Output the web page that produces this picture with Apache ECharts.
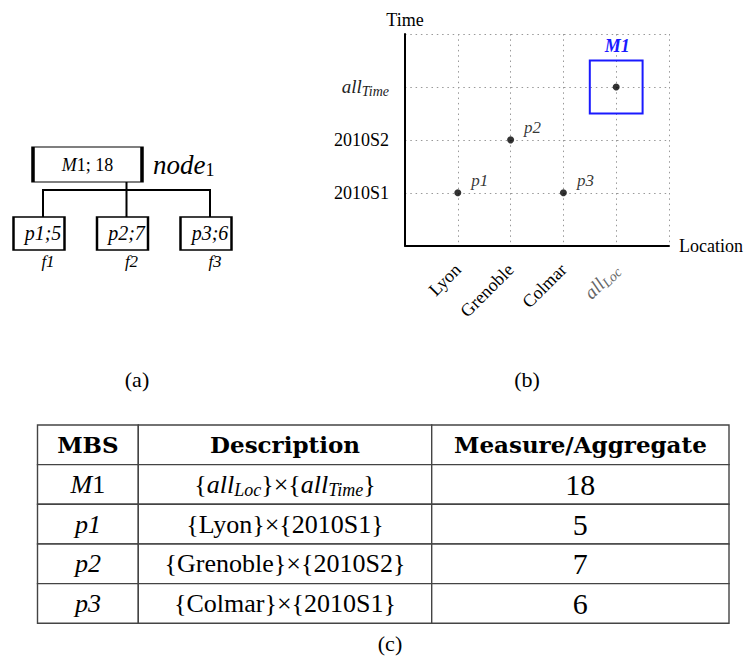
<!DOCTYPE html>
<html><head><meta charset="utf-8">
<script src="https://cdn.jsdelivr.net/npm/echarts@6/dist/echarts.min.js"></script>
<style>html,body{margin:0;padding:0;background:#fff}#c{width:748px;height:664px}</style>
</head><body><div id="c"></div>
<script>
// ---------------- data ----------------
const locations = ['Lyon', 'Grenoble', 'Colmar', 'all_Loc'];
const times = ['2010S1', '2010S2', 'all_Time'];
const mbsNames = ['M1', 'p1', 'p2', 'p3'];
const mbsLocation = ['all_Loc', 'Lyon', 'Grenoble', 'Colmar'];
const mbsTime = ['all_Time', '2010S1', '2010S2', '2010S1'];
const mbsMeasure = [18, 5, 7, 6];
const leafFragments = ['f1', 'f2', 'f3'];
const rootNodeName = 'node_1';
const highlighted = ['M1'];
const tableHeaders = ['MBS', 'Description', 'Measure/Aggregate'];
const captions = ['(a)', '(b)', '(c)'];
const axisNames = ['Location', 'Time'];

// ---------------- helpers ----------------
const SERIF = "Liberation Serif";
const SF = '"Liberation Serif", serif';
const BSF = '"DejaVu Serif", "Liberation Serif", serif';

function richName(s, p) {
  const m = /^([A-Za-z]+)_([A-Za-z0-9]+)$/.exec(s);
  if (m) return '{' + p + 'i|' + m[1] + '}{' + p + 's|' + m[2] + '}';
  return s;
}
function mbsLabel(n) {
  if (/^[A-Z]/.test(n)) return '{ti|' + n[0] + '}{tn|' + n.slice(1) + '}';
  return '{ti|' + n + '}';
}
function cellText(col, row) {
  if (row === 0) return tableHeaders[col];
  const k = row - 1;
  if (col === 0) return mbsLabel(mbsNames[k]);
  if (col === 1) return '{' + richName(mbsLocation[k], 'd') + '}×{' + richName(mbsTime[k], 'd') + '}';
  return String(mbsMeasure[k]);
}

// ---------------- tree (a) ----------------
const treeData = {
  name: mbsNames[0],
  value: mbsMeasure[0],
  symbolSize: [109, 35],
  symbolOffset: [-39, -17.5],
  label: { position: 'inside', distance: 0 },
  children: mbsNames.slice(1).map(function (n, i) {
    return { name: n, value: mbsMeasure[i + 1], symbolSize: [51, 33], symbolOffset: [-4, 16.5] };
  })
};

function treeLabel(p) {
  const idx = mbsNames.indexOf(p.name);
  if (idx === 0) {
    return '{ri|' + p.name[0] + '}{rn|' + p.name.slice(1) + '; ' + p.value + '}';
  }
  return '{b|' + p.name + ';' + p.value + '}\n{f|' + leafFragments[idx - 1] + '}';
}

// ---------------- table (c) ----------------
const rowKeys = ['header'].concat(mbsNames);
const colGrids = [[37.5, 100.8], [138.3, 293.4], [431.7, 297.3]];
const tableTop = 425, tableHeight = 198.3;

const tableRich = {
  ti: { font: 'italic 26px ' + SF, fill: '#000' },
  tn: { font: '26px ' + SF, fill: '#000' },
  di: { font: 'italic 26px ' + SF, fill: '#000' },
  ds: { font: 'italic 18px ' + SF, fill: '#000', padding: [11, 0, 0, 0] }
};

function makeCellRenderer(col) {
  return function (params, api) {
    const c = api.coord([api.value(0), api.value(1)]);
    const s = api.size([1, 1]);
    const row = params.dataIndex;
    const isHead = row === 0;
    const font = isHead ? 'bold 23px ' + BSF : ((col === 2 ? '30px ' : '26px ') + SF);
    return {
      type: 'group',
      children: [
        { type: 'rect', shape: { x: c[0] - s[0] / 2, y: c[1] - s[1] / 2, width: s[0], height: s[1] },
          style: { fill: '#fff', stroke: '#444', lineWidth: 1.4 } },
        { type: 'text', x: c[0], y: c[1],
          style: {
            legacy: false,
            text: cellText(col, row), align: 'center', verticalAlign: 'middle',
            font: font, fill: '#000', rich: tableRich
          } }
      ]
    };
  };
}

// ---------------- option ----------------
const axisRich = function (color) {
  return {
    ai: { fontStyle: 'italic', fontSize: 19, fontFamily: SERIF, color: color },
    as: { fontStyle: 'italic', fontSize: 14, fontFamily: SERIF, color: color, padding: [9, 0, 0, 0] }
  };
};

const grids = [{ left: 405, top: 34, width: 264, height: 211.7 }];
const xAxes = [{
  gridIndex: 0, type: 'category', data: [''].concat(locations, ['']), boundaryGap: false,
  axisLine: { lineStyle: { color: '#000', width: 2 } }, axisTick: { show: false },
  axisLabel: {
    interval: 0, rotate: 45, margin: 21, fontSize: 18, fontFamily: SERIF, color: '#000',
    formatter: function (v) { return v === '' ? '' : richName(v, 'a'); },
    rich: axisRich('#666')
  },
  splitLine: { show: true, interval: 0, lineStyle: { type: [1.5, 3.8], color: '#999', width: 1 } },
  name: axisNames[0], nameLocation: 'end', nameGap: 10,
  nameTextStyle: { fontSize: 18, fontFamily: SERIF, color: '#000', align: 'left', verticalAlign: 'middle' }
}];
const yAxes = [{
  gridIndex: 0, type: 'category', data: [''].concat(times, ['']), boundaryGap: false,
  axisLine: { lineStyle: { color: '#000', width: 2 } }, axisTick: { show: false },
  axisLabel: {
    interval: 0, margin: 16, fontSize: 18, fontFamily: SERIF, color: '#000',
    formatter: function (v) { return v === '' ? '' : richName(v, 'a'); },
    rich: axisRich('#222')
  },
  splitLine: { show: true, interval: 0, lineStyle: { type: [1.5, 3.8], color: '#999', width: 1 } },
  name: axisNames[1], nameLocation: 'end', nameGap: 14,
  nameTextStyle: { fontSize: 18, fontFamily: SERIF, color: '#000', align: 'center', verticalAlign: 'middle' }
}];

colGrids.forEach(function (g, j) {
  grids.push({ left: g[0], width: g[1], top: tableTop, height: tableHeight });
  xAxes.push({ gridIndex: j + 1, type: 'category', data: [tableHeaders[j]], show: false });
  yAxes.push({ gridIndex: j + 1, type: 'category', data: rowKeys, inverse: true, show: false });
});

const series = [
  // blue box around highlighted MBS
  {
    type: 'custom', xAxisIndex: 0, yAxisIndex: 0, z: 3,
    data: highlighted.map(function (n) { const i = mbsNames.indexOf(n); return [mbsLocation[i], mbsTime[i]]; }),
    renderItem: function (params, api) {
      const c = api.coord([api.value(0), api.value(1)]);
      const s = api.size([1, 1]);
      return {
        type: 'group', children: [
          { type: 'rect', shape: { x: c[0] - s[0] / 2, y: c[1] - s[1] / 2, width: s[0], height: s[1] },
            style: { fill: 'none', stroke: '#1a1aff', lineWidth: 2 } },
          { type: 'text', x: c[0] + 1, y: c[1] - s[1] / 2 - 14,
            style: { legacy: false, text: highlighted[params.dataIndex], align: 'center', verticalAlign: 'middle',
              font: 'italic bold 18px ' + SF, fill: '#1a1aff' } }
        ]
      };
    }
  },
  // points
  {
    type: 'scatter', xAxisIndex: 0, yAxisIndex: 0, z: 4, symbolSize: 7,
    itemStyle: { color: '#000' },
    data: mbsNames.map(function (n, i) {
      return { name: n, value: [mbsLocation[i], mbsTime[i]], label: { show: highlighted.indexOf(n) < 0 } };
    }),
    label: { show: true, position: 'right', offset: [5, -12], formatter: '{b}',
      fontStyle: 'italic', fontSize: 17, fontFamily: SERIF, color: '#000' },
    emphasis: { disabled: true }
  },
  // tree
  {
    type: 'tree', data: [treeData], orient: 'TB', layout: 'orthogonal',
    edgeShape: 'polyline', edgeForkPosition: '23%',
    left: 1.25, top: 182, width: 250.5, height: 35,
    symbol: 'rect', expandAndCollapse: false, initialTreeDepth: -1, roam: false,
    itemStyle: { color: '#fff', borderColor: '#000', borderWidth: 2 },
    lineStyle: { color: '#000', width: 2, curveness: 0 },
    label: {
      show: true, position: 'inside', distance: 0, formatter: treeLabel, color: '#000',
      fontFamily: SERIF, fontSize: 17,
      rich: {
        ri: { fontStyle: 'italic', fontSize: 18, fontFamily: SERIF, color: '#000' },
        rn: { fontSize: 18, fontFamily: SERIF, color: '#000' }
      }
    },
    leaves: {
      label: {
        show: true, position: 'insideTop', distance: 0, formatter: treeLabel,
        rich: {
          b: { fontStyle: 'italic', fontSize: 20, fontFamily: SERIF, color: '#000', lineHeight: 33, padding: [0, 0, 0, 8] },
          f: { fontStyle: 'italic', fontSize: 17, fontFamily: SERIF, color: '#000', lineHeight: 25, padding: [0, 0, 0, 18] }
        }
      }
    },
    emphasis: { disabled: true }
  }
];

colGrids.forEach(function (g, j) {
  series.push({
    type: 'custom', xAxisIndex: j + 1, yAxisIndex: j + 1,
    data: rowKeys.map(function (k, r) { return [0, r]; }),
    renderItem: makeCellRenderer(j)
  });
});

const captionPos = [[137, 379], [527, 379], [390, 643]];
const graphic = captions.map(function (t, i) {
  return { type: 'text', x: captionPos[i][0], y: captionPos[i][1],
    style: { text: t, align: 'center', verticalAlign: 'middle', font: '22px ' + SF, fill: '#000' } };
});
graphic.push({
  type: 'text', x: 153, y: 165,
  style: {
    text: richName(rootNodeName, 'n'), align: 'left', verticalAlign: 'middle',
    font: 'italic 27px ' + SF, fill: '#000',
    rich: {
      ni: { font: 'italic 27px ' + SF, fill: '#000' },
      ns: { font: '18px ' + SF, fill: '#000', padding: [10, 0, 0, 0] }
    }
  }
});

const chart = echarts.init(document.getElementById('c'), null, { renderer: 'svg' });
chart.setOption({
  animation: false,
  backgroundColor: '#fff',
  grid: grids, xAxis: xAxes, yAxis: yAxes,
  series: series,
  graphic: graphic
});
</script>
</body></html>
